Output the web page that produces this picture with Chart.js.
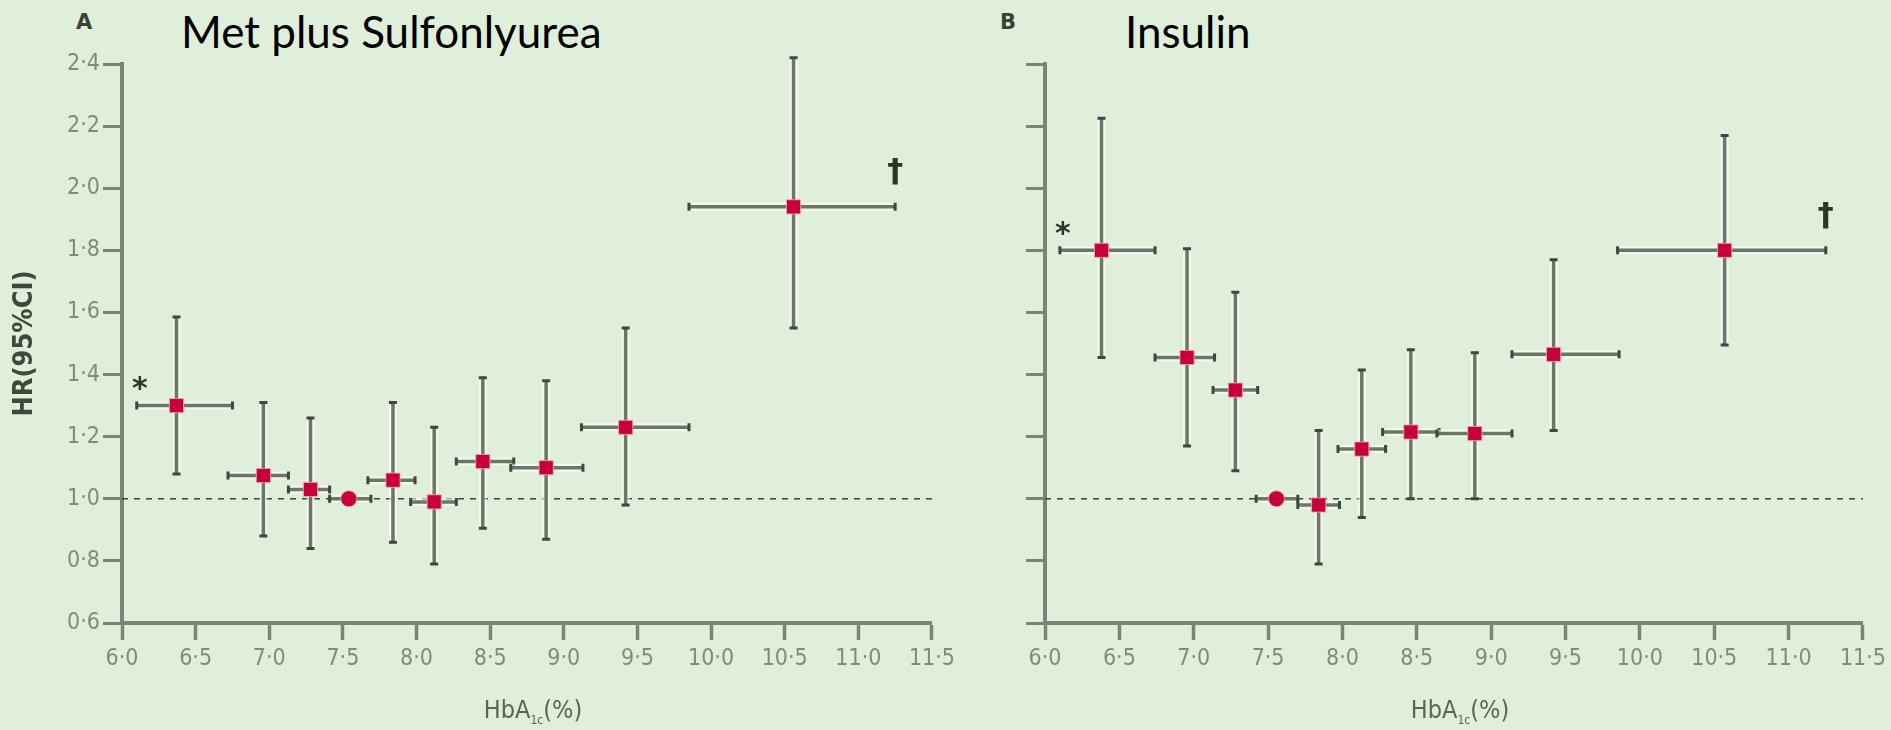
<!DOCTYPE html>
<html>
<head>
<meta charset="utf-8">
<script src="https://cdn.jsdelivr.net/npm/chart.js@4.4.0/dist/chart.umd.min.js"></script>
<style>
  body { margin: 0; width: 1891px; height: 730px; background: #e0efd9; position: relative; overflow: hidden; }
  .panel { position: absolute; top: 0; height: 730px; }
  .titulo { position: absolute; top: 9px; font-family: Lato, sans-serif; font-size: 44px; line-height: 1; color: #000; white-space: nowrap; }
  .letra { position: absolute; top: 10px; font-family: 'DejaVu Sans', sans-serif; font-weight: bold; font-size: 21px; color: #3a4237; }
  .xtitulo { position: absolute; top: 697px; line-height: 1; transform: translateX(-50%); font-family: 'DejaVu Sans Condensed', 'Liberation Sans Narrow', 'Liberation Sans', sans-serif; font-size: 25px; color: #5b6457; white-space: nowrap; }
  .xtitulo sub { font-size: 12px; }
</style>
</head>
<body>
<div class="letra" style="left:76px">A</div>
<div class="titulo" style="left:181px">Met plus Sulfonlyurea</div>
<div class="letra" style="left:1000px">B</div>
<div class="titulo" style="left:1125px">Insulin</div>

<div class="panel" style="left:0;width:960px"><canvas id="graficoA" width="960" height="730"></canvas></div>
<div class="panel" style="left:960px;width:931px"><canvas id="graficoB" width="931" height="730"></canvas></div>

<div class="xtitulo" style="left:533px">HbA<sub>1c</sub>(%)</div>
<div class="xtitulo" style="left:1460px">HbA<sub>1c</sub>(%)</div>

<script>
// Marcas de los ejes
const ticksX = [6.0, 6.5, 7.0, 7.5, 8.0, 8.5, 9.0, 9.5, 10.0, 10.5, 11.0, 11.5];
const ticksY = [0.6, 0.8, 1.0, 1.2, 1.4, 1.6, 1.8, 2.0, 2.2, 2.4];
const lineaRef = 1.0;

// Panel A: Met plus Sulfonlyurea
const hba1cA    = [6.37, 6.96, 7.28, 7.54, 7.84, 8.12, 8.45, 8.88, 9.42, 10.56];
const hba1cAMin = [6.10, 6.72, 7.13, 7.41, 7.67, 7.96, 8.27, 8.64, 9.12, 9.85];
const hba1cAMax = [6.75, 7.13, 7.41, 7.69, 7.99, 8.27, 8.66, 9.13, 9.85, 11.25];
const hrA       = [1.30, 1.075, 1.03, 1.0, 1.06, 0.99, 1.12, 1.10, 1.23, 1.94];
const hrALow    = [1.08, 0.88, 0.84, null, 0.86, 0.79, 0.905, 0.87, 0.98, 1.55];
const hrAHigh   = [1.585, 1.31, 1.26, null, 1.31, 1.23, 1.39, 1.38, 1.55, 2.42];

// Panel B: Insulin
const hba1cB    = [6.38, 6.955, 7.28, 7.556, 7.84, 8.13, 8.46, 8.89, 9.42, 10.57];
const hba1cBMin = [6.10, 6.74, 7.13, 7.42, 7.70, 7.97, 8.27, 8.635, 9.14, 9.85];
const hba1cBMax = [6.74, 7.14, 7.43, 7.70, 7.98, 8.29, 8.65, 9.14, 9.86, 11.25];
const hrB       = [1.80, 1.455, 1.35, 1.0, 0.98, 1.16, 1.215, 1.21, 1.465, 1.80];
const hrBLow    = [1.455, 1.17, 1.09, null, 0.79, 0.94, 1.0, 1.0, 1.22, 1.495];
const hrBHigh   = [2.225, 1.805, 1.665, null, 1.22, 1.415, 1.48, 1.47, 1.77, 2.17];

const fuenteEjes = "'DejaVu Sans Condensed', 'Liberation Sans Narrow', 'Liberation Sans', sans-serif";
const grisEje = '#7b8577';

// Dibuja los intervalos de confianza (horizontal y vertical) antes de los puntos
const barrasError = {
  id: 'barrasError',
  beforeDatasetDraw(chart, args, opts) {
    if (args.index !== 0) return;
    const { ctx, scales: { x, y } } = chart;
    ctx.save();
    opts.centro.forEach((c, i) => {
      const px = x.getPixelForValue(c);
      const py = y.getPixelForValue(opts.hr[i]);
      const segs = [[x.getPixelForValue(opts.xMin[i]), py, x.getPixelForValue(opts.xMax[i]), py]];
      if (opts.low[i] != null) {
        segs.push([px, y.getPixelForValue(opts.high[i]), px, y.getPixelForValue(opts.low[i])]);
      }
      segs.forEach(([x1, y1, x2, y2]) => {
        // halo claro
        ctx.strokeStyle = 'rgba(255,255,255,0.55)';
        ctx.lineWidth = 8;
        ctx.beginPath(); ctx.moveTo(x1, y1); ctx.lineTo(x2, y2); ctx.stroke();
        ctx.strokeStyle = '#6c7567';
        ctx.lineWidth = 3.5;
        ctx.beginPath(); ctx.moveTo(x1, y1); ctx.lineTo(x2, y2); ctx.stroke();
        // topes
        ctx.strokeStyle = '#3f473c';
        ctx.lineWidth = 3;
        ctx.beginPath();
        if (y1 === y2) {
          ctx.moveTo(x1, y1 - 4); ctx.lineTo(x1, y1 + 4);
          ctx.moveTo(x2, y2 - 4); ctx.lineTo(x2, y2 + 4);
        } else {
          ctx.moveTo(x1 - 4, y1); ctx.lineTo(x1 + 4, y1);
          ctx.moveTo(x2 - 4, y2); ctx.lineTo(x2 + 4, y2);
        }
        ctx.stroke();
      });
    });
    ctx.restore();
  },
  afterDatasetsDraw(chart, args, opts) {
    const { ctx, scales: { x, y } } = chart;
    const n = opts.centro.length - 1;
    ctx.save();
    ctx.fillStyle = '#2e362b';
    ctx.textAlign = 'center';
    ctx.textBaseline = 'middle';
    ctx.font = 'bold 30px "DejaVu Sans", sans-serif';
    ctx.fillText('*', x.getPixelForValue(opts.xMin[0]) + 3, y.getPixelForValue(opts.hr[0]) - 15);
    ctx.font = 'bold 32px "DejaVu Sans", sans-serif';
    ctx.fillText('\u2020', x.getPixelForValue(opts.xMax[n]), y.getPixelForValue(opts.hr[n]) - 34);
    ctx.restore();
  }
};

function crearGrafico(id, centro, xMin, xMax, hr, low, high, conEtiquetas, anchoY, padDer) {
  const ctx = document.getElementById(id).getContext('2d');
  return new Chart(ctx, {
    type: 'scatter',
    data: {
      datasets: [
        {
          data: centro.map((c, i) => ({ x: c, y: hr[i] })),
          pointStyle: c => low[c.dataIndex] == null ? 'circle' : 'rect',
          pointRadius: c => low[c.dataIndex] == null ? 8 : 10,
          backgroundColor: '#c8003a',
          borderColor: 'rgba(240,170,180,0.8)',
          borderWidth: 1
        },
        {
          type: 'line',
          data: [{ x: ticksX[0], y: lineaRef }, { x: ticksX[ticksX.length - 1], y: lineaRef }],
          borderColor: '#3a4337',
          borderWidth: 1.5,
          borderDash: [6, 6],
          pointRadius: 0
        }
      ]
    },
    options: {
      responsive: false,
      animation: false,
      layout: { padding: { top: 64, right: padDer, bottom: 0, left: 0 } },
      plugins: {
        legend: { display: false },
        tooltip: { enabled: false },
        barrasError: { centro, xMin, xMax, hr, low, high }
      },
      scales: {
        x: {
          type: 'linear',
          min: ticksX[0],
          max: ticksX[ticksX.length - 1],
          afterBuildTicks: s => { s.ticks = ticksX.map(v => ({ value: v })); },
          afterFit: s => { s.height = 107; },
          ticks: {
            callback: v => v.toFixed(1).replace('.', '\u00b7'),
            color: '#818b7d',
            font: { family: fuenteEjes, size: 23 },
            padding: 5,
            maxRotation: 0,
            autoSkip: false
          },
          grid: { drawOnChartArea: false, drawTicks: true, tickLength: 17, tickWidth: 3.5, tickColor: grisEje },
          border: { display: true, color: grisEje, width: 4 }
        },
        y: {
          type: 'linear',
          min: ticksY[0],
          max: ticksY[ticksY.length - 1],
          afterBuildTicks: s => { s.ticks = ticksY.map(v => ({ value: v })); },
          afterFit: s => { s.width = anchoY; },
          ticks: {
            callback: v => conEtiquetas ? v.toFixed(1).replace('.', '\u00b7') : '',
            color: '#818b7d',
            font: { family: fuenteEjes, size: 23 },
            padding: 3
          },
          grid: { drawOnChartArea: false, drawTicks: true, tickLength: 19, tickWidth: 3, tickColor: grisEje },
          border: { display: true, color: grisEje, width: 4 },
          title: {
            display: conEtiquetas,
            text: 'HR(95%CI)',
            color: '#3f483b',
            font: { family: fuenteEjes, size: 27, weight: 'bold' },
            padding: { top: 9 }
          }
        }
      }
    },
    plugins: [barrasError]
  });
}

crearGrafico('graficoA', hba1cA, hba1cAMin, hba1cAMax, hrA, hrALow, hrAHigh, true, 122, 20);
crearGrafico('graficoB', hba1cB, hba1cBMin, hba1cBMax, hrB, hrBLow, hrBHigh, false, 85, 28);
</script>
</body>
</html>
